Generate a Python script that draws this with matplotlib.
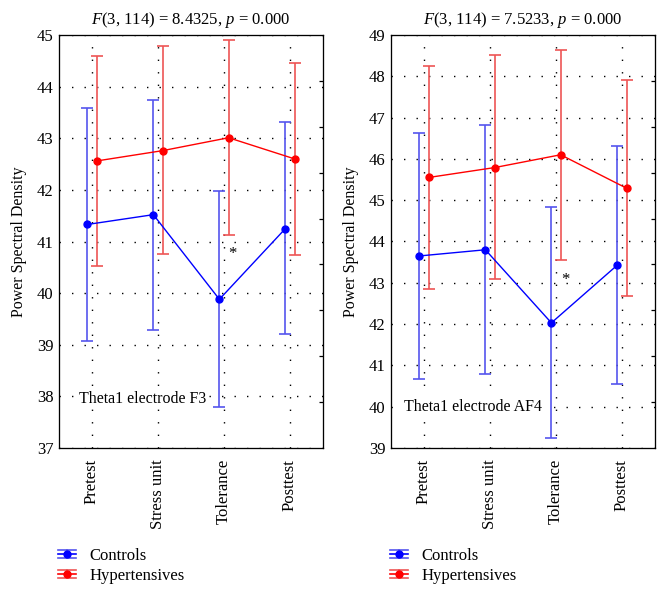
import matplotlib.pyplot as plt
from matplotlib.legend_handler import HandlerBase
from matplotlib.lines import Line2D
import numpy as np

plt.rcParams['font.family'] = ['Liberation Serif', 'DejaVu Serif']
plt.rcParams['mathtext.fontset'] = 'custom'
plt.rcParams['mathtext.it'] = 'Liberation Serif:italic'
plt.rcParams['mathtext.rm'] = 'Liberation Serif'

categories = ["Pretest", "Stress unit", "Tolerance", "Posttest"]

# Theta1 electrode F3
f3_ctrl_mean = [41.33, 41.52, 39.88, 41.25]
f3_ctrl_upper = [43.58, 43.75, 41.97, 43.31]
f3_ctrl_lower = [39.08, 39.29, 37.80, 39.20]
f3_hyp_mean = [42.56, 42.76, 43.01, 42.60]
f3_hyp_upper = [44.60, 44.79, 44.90, 44.46]
f3_hyp_lower = [40.52, 40.76, 41.13, 40.74]

# Theta1 electrode AF4
af4_ctrl_mean = [43.65, 43.80, 42.03, 43.43]
af4_ctrl_upper = [46.62, 46.81, 44.83, 46.32]
af4_ctrl_lower = [40.68, 40.79, 39.24, 40.55]
af4_hyp_mean = [45.55, 45.79, 46.10, 45.29]
af4_hyp_upper = [48.24, 48.51, 48.63, 47.90]
af4_hyp_lower = [42.86, 43.08, 43.56, 42.68]

panels = [
    dict(title="$F$(3, 114) = 8.4325, $p$ = 0.000", label="Theta1 electrode F3",
         ylim=(37, 45), ctrl=(f3_ctrl_mean, f3_ctrl_lower, f3_ctrl_upper),
         hyp=(f3_hyp_mean, f3_hyp_lower, f3_hyp_upper),
         label_pos=(-0.2, 37.95), star=(2.13, 40.76)),
    dict(title="$F$(3, 114) = 7.5233, $p$ = 0.000", label="Theta1 electrode AF4",
         ylim=(39, 49), ctrl=(af4_ctrl_mean, af4_ctrl_lower, af4_ctrl_upper),
         hyp=(af4_hyp_mean, af4_hyp_lower, af4_hyp_upper),
         label_pos=(-0.3, 40.0), star=(2.14, 43.07)),
]


class ErrHandle(HandlerBase):
    # legend key: three horizontal strokes with a dot in the middle
    def __init__(self, color, ecolor):
        super().__init__()
        self.color = color
        self.ecolor = ecolor

    def create_artists(self, legend, orig_handle, xdescent, ydescent, width, height, fontsize, trans):
        arts = []
        ym = height / 2 - ydescent
        for dy, c in [(-height * 0.35, self.ecolor), (0, self.color), (height * 0.35, self.ecolor)]:
            arts.append(Line2D([-xdescent, width - xdescent], [ym + dy, ym + dy],
                               color=c, lw=1.2, transform=trans))
        arts.append(Line2D([width / 2 - xdescent] * 2, [ym - height * 0.35, ym + height * 0.35],
                           color=self.ecolor, lw=1.2, transform=trans))
        arts.append(Line2D([width / 2 - xdescent], [ym], marker="o", ms=5,
                           color=self.color, transform=trans))
        return arts


fig = plt.figure(figsize=(6.66, 5.94), dpi=100)
lefts = [59 / 666, 391 / 666]
x = np.arange(len(categories))
off = 0.07

for p, left in zip(panels, lefts):
    ax = fig.add_axes([left, 1 - 448 / 594, 264 / 666, 413 / 594])
    handles, labels, hmap = [], [], {}
    for key, color, ecol, dx, name in [("ctrl", "#0000ff", "#5555ee", -off, "Controls"),
                                        ("hyp", "#ff0000", "#ee5555", off, "Hypertensives")]:
        m, lo, hi = [np.array(v) for v in p[key]]
        ax.errorbar(x + dx, m, yerr=[m - lo, hi - m], color=color, ecolor=ecol,
                    marker="o", ms=5, lw=1, elinewidth=1.2, capsize=4, capthick=1.2)
        proxy = Line2D([], [])
        handles.append(proxy)
        labels.append(name)
        hmap[proxy] = ErrHandle(color, ecol)
    ax.set_xlim(-0.5, 3.5)
    ax.set_ylim(*p["ylim"])
    ax.set_yticks(np.arange(p["ylim"][0], p["ylim"][1] + 1))
    ax.set_xticks(x)
    ax.set_xticklabels(categories, rotation=90, fontsize=12)
    ax.tick_params(axis="y", labelsize=12, length=0, pad=4)
    ax.tick_params(axis="x", length=0, pad=8)
    ax.grid(True, color="black", linestyle=(0, (1, 8)), linewidth=1.0)
    ax.set_ylabel("Power Spectral Density", fontsize=11.5, labelpad=7)
    ax.set_title(p["title"], fontsize=12, pad=8)
    for s in ax.spines.values():
        s.set_linewidth(0.9)
        s.set_color("#333333")
    ax.text(*p["label_pos"], p["label"], fontsize=11.5, va="center", ha="left",
            bbox=dict(facecolor="white", edgecolor="none", pad=1))
    ax.text(*p["star"], "*", fontsize=12, ha="center", va="center")
    # right-side inner ticks
    ax2 = ax.twinx()
    ax2.set_ylim(0, 9)
    ax2.set_yticks(np.arange(1, 9))
    ax2.set_yticklabels([])
    ax2.tick_params(axis="y", direction="in", length=3, width=0.9)
    fig.legend(handles, labels, handler_map=hmap, loc="upper left",
               bbox_to_anchor=(left - 0.002, 1 - 548 / 594),
               frameon=False, fontsize=12, handlelength=1.1, handletextpad=0.8,
               labelspacing=0.22, borderaxespad=0, borderpad=0)

fig.savefig("out.png", dpi=100)
